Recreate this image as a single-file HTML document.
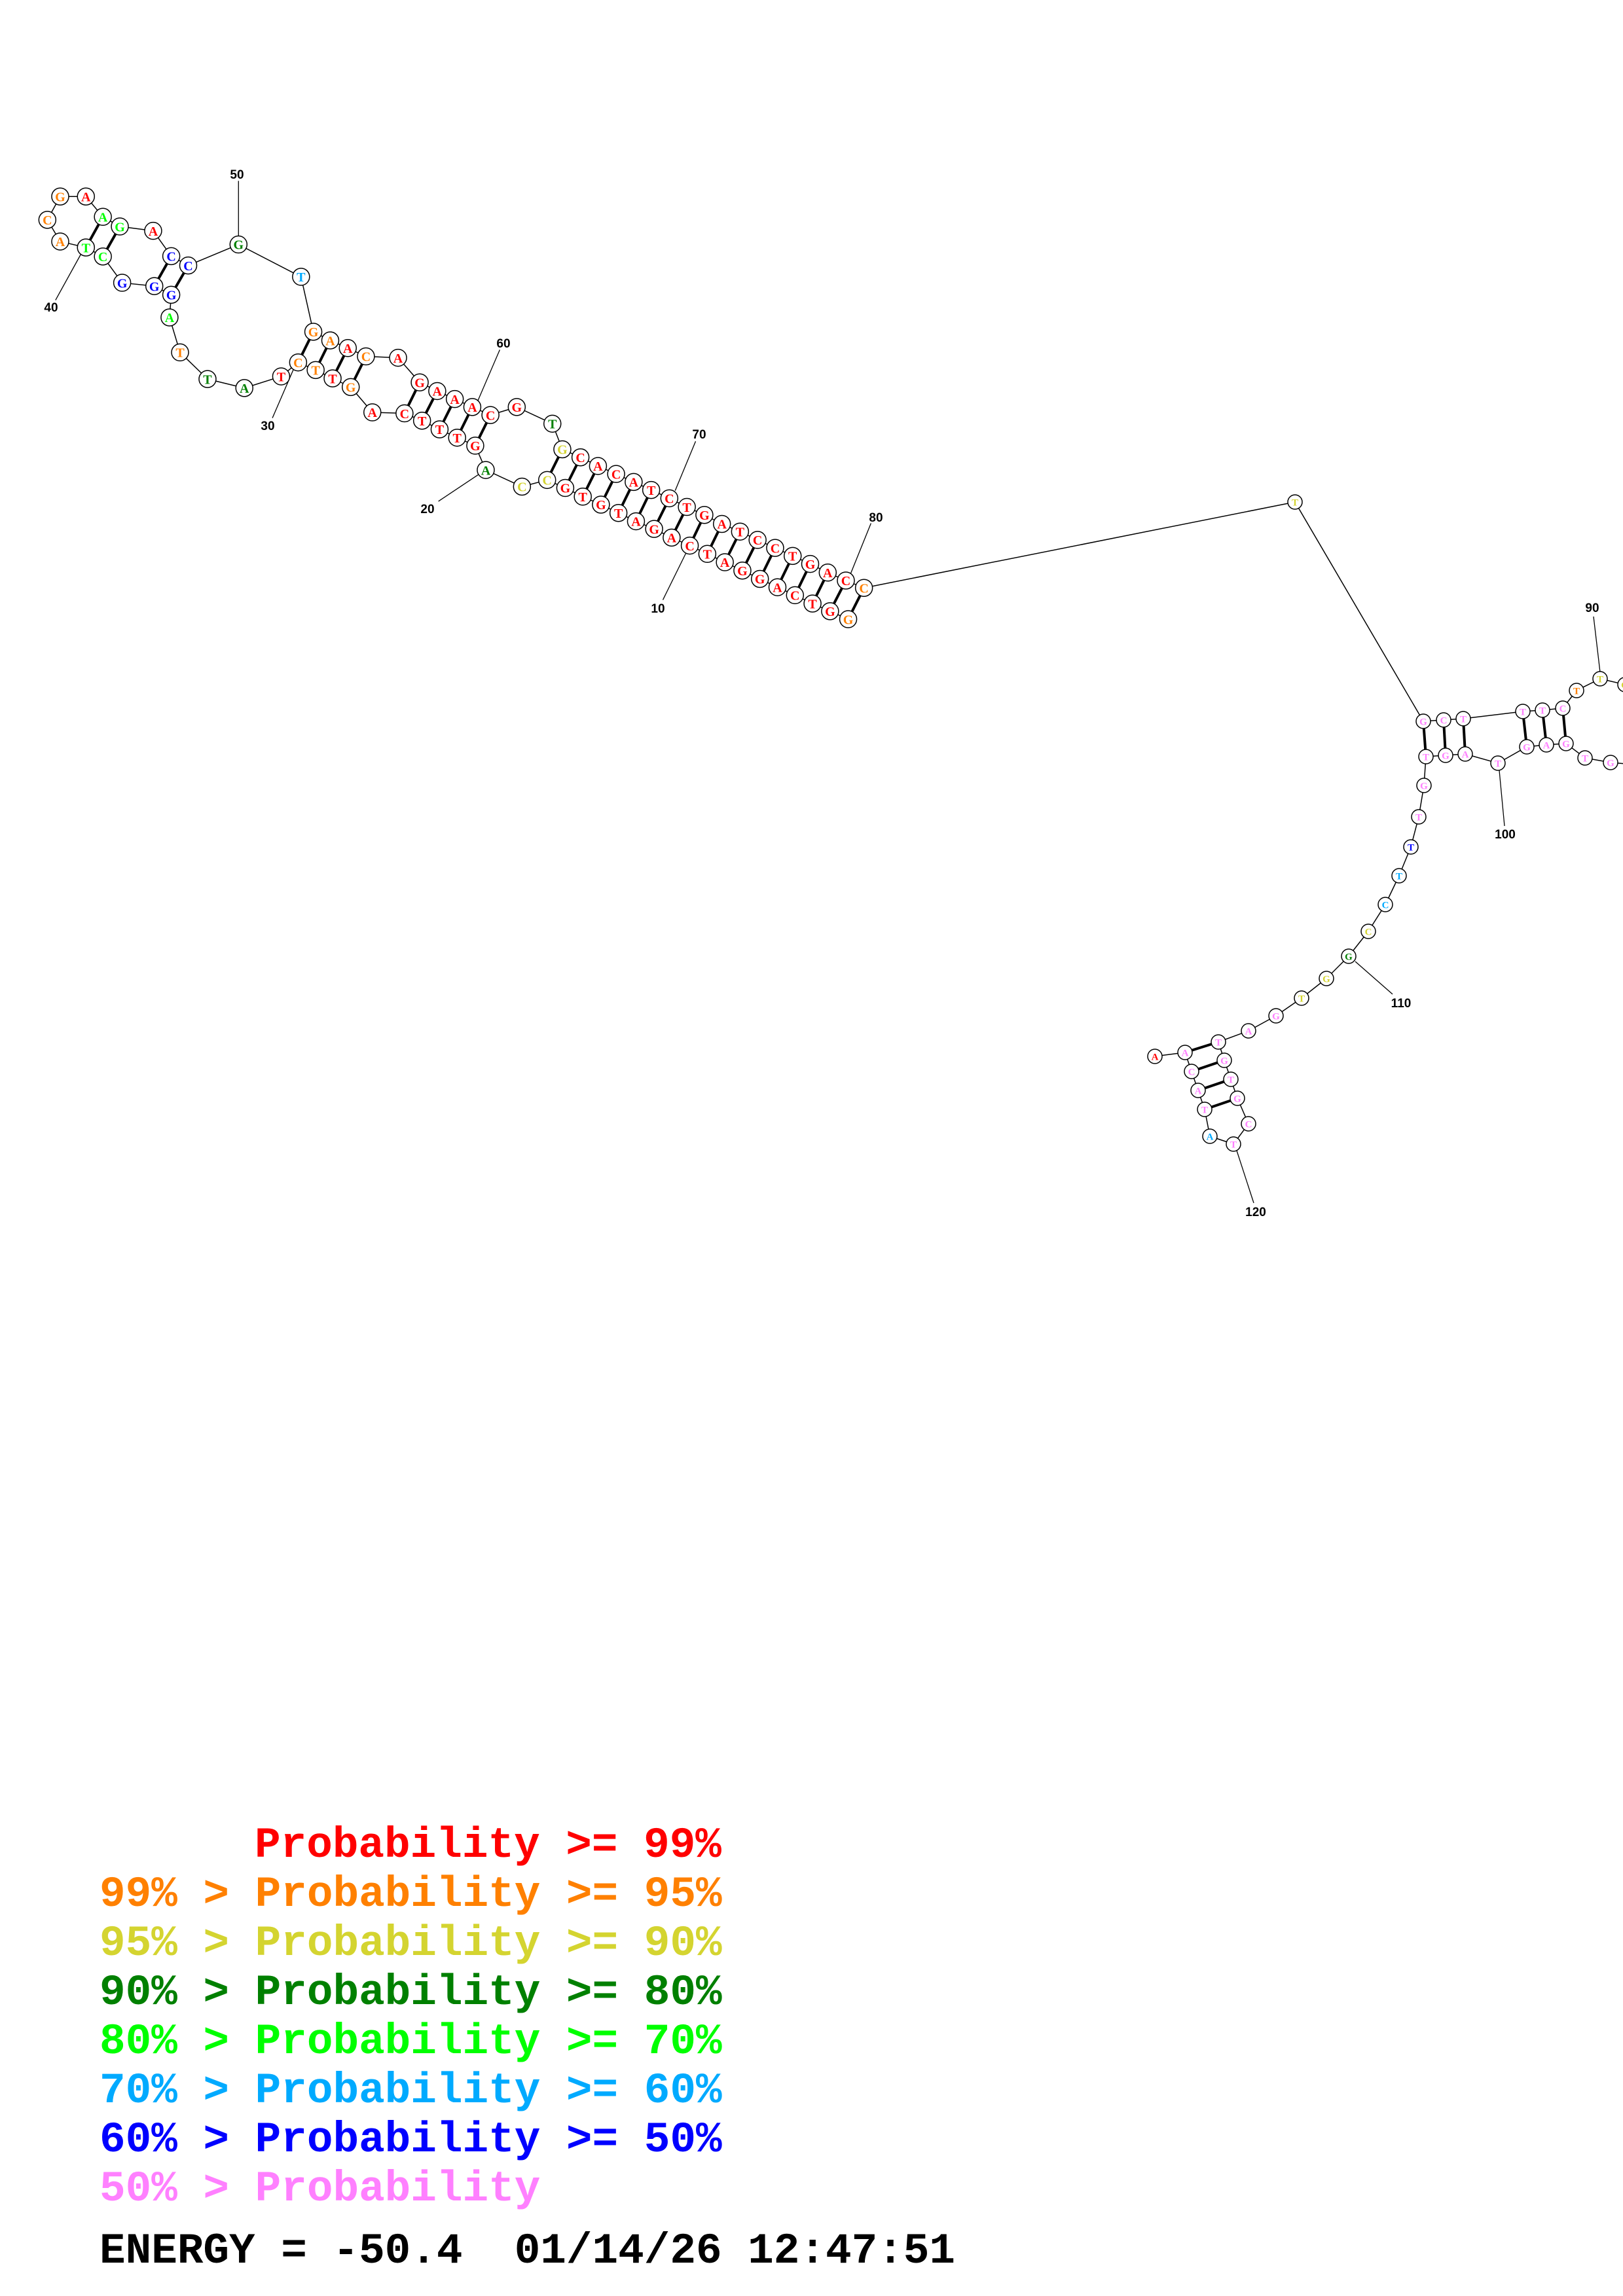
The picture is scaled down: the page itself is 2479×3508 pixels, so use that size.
<!DOCTYPE html>
<html><head><meta charset="utf-8"><style>
html,body{margin:0;padding:0;background:#fff;}
#c{position:absolute;left:0;top:0;}
.lg{font-family:"Liberation Mono",monospace;font-weight:bold;font-size:66px;}
</style></head><body>
<svg id="c" width="2479" height="3508" xmlns="http://www.w3.org/2000/svg">
<g id="lines"></g><g id="nodes"></g>
<g class="lg">
<text x="389" y="2837" fill="#ff0000">Probability &gt;= 99%</text>
<text x="152" y="2912" fill="#ff8000">99% &gt; Probability &gt;= 95%</text>
<text x="152" y="2987" fill="#d4d430">95% &gt; Probability &gt;= 90%</text>
<text x="152" y="3062" fill="#008000">90% &gt; Probability &gt;= 80%</text>
<text x="152" y="3137" fill="#00ff00">80% &gt; Probability &gt;= 70%</text>
<text x="152" y="3212" fill="#00aaff">70% &gt; Probability &gt;= 60%</text>
<text x="152" y="3287" fill="#0000ff">60% &gt; Probability &gt;= 50%</text>
<text x="152" y="3362" fill="#ff80ff">50% &gt; Probability</text>
<text x="152" y="3457" fill="#000">ENERGY = -50.4&#160;&#160;01/14/26 12:47:51</text>
</g>
<g font-family="Liberation Sans,sans-serif" font-weight="bold" font-size="19" fill="#000" text-anchor="middle">
<text x="362" y="273">50</text><text x="78" y="476">40</text><text x="409" y="657">30</text>
<text x="769" y="531">60</text><text x="653" y="784">20</text><text x="1068" y="670">70</text>
<text x="1005" y="936">10</text><text x="1338" y="797">80</text>
<text x="2432" y="935">90</text><text x="2299" y="1281">100</text><text x="2140" y="1539">110</text><text x="1918" y="1858">120</text>
</g>
</svg>
<script>
var C={R:"#ff0000",O:"#ff8000",Y:"#d4d430",DG:"#008000",LG:"#00ff00",LB:"#00aaff",B:"#0000ff",P:"#ff80ff"};
function m(x,y){return [x/1.12,200+y/1.965];}
var L=[["G","O",1451,1466],["G","R",1420,1442],["T","R",1390,1419],["C","R",1360,1394],["A","R",1330,1370],["G","R",1300,1345],["G","R",1270,1320],["A","R",1240,1295],["T","R",1210,1270],["C","R",1180,1245],["A","R",1149,1221],["G","R",1119,1195],["A","R",1088,1172],["T","R",1058,1147],["G","R",1028,1122],["T","R",997,1098],["G","R",967,1072],["C","Y",936,1048],["C","Y",893,1068],["A","DG",831,1018],["G","R",813,945],["T","R",782,921],["T","R",752,896],["T","R",722,870],["C","R",692,848],["A","R",637,845],["G","O",600,769],["T","R",569,743],["T","O",540,718],["C","O",510,695],["T","R",481,737],["A","DG",418,772],["T","DG",355,745],["T","O",308,665],["A","LG",290,560],["G","B",293,492],["G","B",264,466],["G","B",209,456],["C","LG",176,377],["T","LG",147,350],["A","O",103,332],["C","O",81,267],["G","O",103,197],["A","R",147,197],["A","LG",176,258],["G","LG",205,287],["A","R",262,300],["C","B",293,376],["C","B",322,404],["G","DG",408,341],["T","LB",515,438],["G","O",536,603],["A","O",565,629],["A","R",595,652],["C","O",626,677],["A","R",681,681],["G","R",718,755],["A","R",748,781],["A","R",778,805],["A","R",808,829],["C","R",839,853],["G","R",884,829],["T","DG",945,879],["G","Y",962,956],["C","R",993,980],["A","R",1023,1006],["C","R",1054,1030],["A","R",1084,1054],["T","R",1114,1078],["C","R",1145,1103],["T","R",1175,1129],["G","R",1205,1153],["A","R",1235,1180],["T","R",1266,1203],["C","R",1296,1228],["C","R",1326,1252],["T","R",1356,1276],["G","R",1386,1300],["A","R",1416,1326],["C","R",1447,1350],["C","O",1478,1372]];
var nodes=L.map(function(n){var p=m(n[2],n[3]);return {t:n[0],c:n[1],x:p[0],y:p[1],r:13,f:20};});
var Rt=[["T","Y",1978,767],["G","P",2174,1102],["C","P",2205,1100],["T","P",2235,1098],["T","P",2326,1087],["T","P",2356,1085],["C","P",2387,1082],["T","O",2408,1055],["T","Y",2444,1037],["G","Y",2482,1046],
["G","P",2460,1165],["T","P",2421,1158],["G","P",2392,1136],["A","P",2362,1138],["G","P",2332,1141],["T","P",2288,1166],["A","P",2238,1152],["G","P",2208,1154],["T","P",2178,1156],["G","P",2175,1200],["T","P",2167,1248],["T","B",2155,1294],["T","LB",2137,1338],["C","LB",2116,1382],["C","Y",2090,1423],["G","DG",2060,1461],["G","Y",2026,1495],["T","Y",1988,1525],["G","P",1949,1552],["A","P",1907,1575],["T","P",1861,1592],["G","P",1870,1620],["T","P",1880,1649],["G","P",1890,1678],["C","P",1907,1717],["T","P",1884,1748],["A","LB",1848,1736],["T","P",1840,1695],["A","P",1830,1666],["C","P",1820,1637],["A","P",1810,1608],["A","R",1764,1614]];
var rn=Rt.map(function(n){return {t:n[0],c:n[1],x:n[2],y:n[3],r:11,f:15};});
var all=nodes.concat(rn);
var ns="http://www.w3.org/2000/svg",Lg=document.getElementById("lines"),Ng=document.getElementById("nodes");
function line(a,b,w){var l=document.createElementNS(ns,"line");l.setAttribute("x1",a.x);l.setAttribute("y1",a.y);l.setAttribute("x2",b.x);l.setAttribute("y2",b.y);l.setAttribute("stroke","#000");l.setAttribute("stroke-width",w);Lg.appendChild(l);}
for(var i=0;i<all.length-1;i++){ if(i==90) continue; line(all[i],all[i+1],1.5);}
line(all[90],{x:2495,y:1046},1.5); line(all[91],{x:2495,y:1168},1.5);
function P(a,b){line(all[a-1],all[b-1],4);}
P(1,81);P(2,80);for(var k=0;k<16;k++)P(3+k,79-k);
P(21,61);P(22,60);P(23,59);P(24,58);P(25,57);
P(27,55);P(28,54);P(29,53);P(30,52);
P(36,49);P(37,48);P(39,46);P(40,45);
function Q(a,b){line(rn[a],rn[b],4);}
Q(1,18);Q(2,17);Q(3,16);Q(4,14);Q(5,13);Q(6,12);
Q(30,40);Q(31,39);Q(32,38);Q(33,37);
var LL=[[408,150,408,318],[95,508,140,365],[466,862,503,712],[855,657,817,812],[750,1112,820,1030],[1190,932,1155,1080],[1134,1408,1175,1262],[1490,1178,1455,1330]];
LL.forEach(function(s){var a=m(s[0],s[1]),b=m(s[2],s[3]);line({x:a[0],y:a[1]},{x:b[0],y:b[1]},1.3);});
[[2434,942,2444,1027],[2290,1177,2298,1262],[2070,1469,2127,1519],[1889,1758,1915,1838]].forEach(function(s){line({x:s[0],y:s[1]},{x:s[2],y:s[3]},1.3);});
all.forEach(function(n){var c=document.createElementNS(ns,"circle");c.setAttribute("cx",n.x);c.setAttribute("cy",n.y);c.setAttribute("r",n.r);c.setAttribute("fill","#fff");c.setAttribute("stroke","#000");c.setAttribute("stroke-width",1.5);Ng.appendChild(c);
var t=document.createElementNS(ns,"text");t.setAttribute("x",n.x);t.setAttribute("y",n.y+n.f*0.36);t.setAttribute("text-anchor","middle");t.setAttribute("font-family","Liberation Serif,serif");t.setAttribute("font-weight","bold");t.setAttribute("font-size",n.f);t.setAttribute("fill",C[n.c]);t.textContent=n.t;Ng.appendChild(t);});
</script>
</body></html>
